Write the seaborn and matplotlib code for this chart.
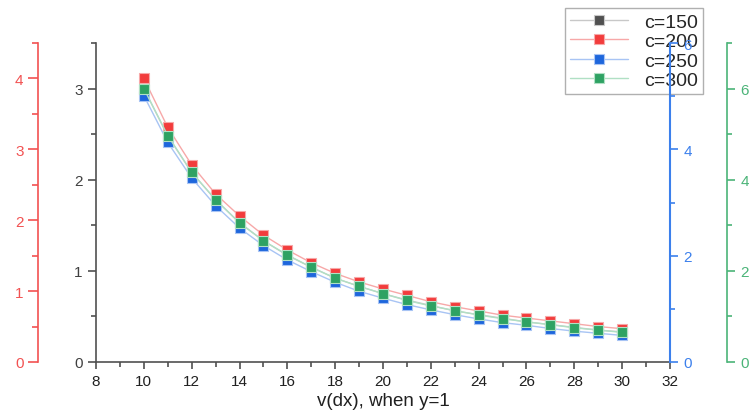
import matplotlib
matplotlib.use("Agg")
import matplotlib.pyplot as plt
from matplotlib.ticker import MultipleLocator
from matplotlib.lines import Line2D
import seaborn as sns
import pandas as pd

sns.set_style("ticks")
plt.rcParams['font.family'] = ['Liberation Sans', 'DejaVu Sans']

v = [10, 11, 12, 13, 14, 15, 16, 17, 18, 19, 20, 21, 22, 23, 24, 25, 26, 27, 28, 29, 30]
c150 = [3.00, 2.48, 2.08, 1.78, 1.53, 1.33, 1.17, 1.04, 0.92, 0.83, 0.75, 0.68, 0.62,
        0.56, 0.52, 0.48, 0.44, 0.41, 0.38, 0.35, 0.33]
c200 = [4.00, 3.31, 2.78, 2.37, 2.06, 1.79, 1.58, 1.40, 1.25, 1.13, 1.03, 0.94, 0.85,
        0.78, 0.72, 0.66, 0.62, 0.58, 0.54, 0.50, 0.47]
c250 = [5.01, 4.13, 3.46, 2.94, 2.52, 2.19, 1.92, 1.70, 1.50, 1.33, 1.20, 1.08, 0.98,
        0.89, 0.81, 0.74, 0.69, 0.63, 0.58, 0.54, 0.50]
c300 = [6.00, 4.97, 4.16, 3.56, 3.05, 2.66, 2.35, 2.08, 1.84, 1.66, 1.50, 1.35, 1.23,
        1.13, 1.03, 0.95, 0.88, 0.82, 0.75, 0.70, 0.65]
labels = ["c=150", "c=200", "c=250", "c=300"]

df = pd.DataFrame({"v": v, "c150": c150, "c200": c200, "c250": c250, "c300": c300})

fig = plt.figure(figsize=(7.49, 4.14), dpi=100)
ax = fig.add_axes([0.1282, 0.1232, 0.7663, 0.7705])
ax_r = ax.twinx()   # red, left outer
ax_b = ax.twinx()   # blue, right
ax_g = ax.twinx()   # green, right outer

gray, gray_l = "#505050", "#c8c8c8"
red, red_l, red_ax = "#f23c3c", "#f7a8a8", "#f25252"
blue, blue_l, blue_ax = "#1e66dc", "#a8c4f4", "#3c80ec"
green, green_l, green_ax = "#2ea263", "#b0e0c4", "#4bb478"

series = [(ax, "c150", gray, gray_l), (ax_r, "c200", red, red_l),
          (ax_b, "c250", blue, blue_l), (ax_g, "c300", green, green_l)]
for a, col, mc, lc in series:
    sns.lineplot(data=df, x="v", y=col, ax=a, color=lc, linewidth=1.0,
                 marker="s", markersize=7, markerfacecolor=mc,
                 markeredgecolor=lc, markeredgewidth=0.8)
    a.set_xlabel("")
    a.set_ylabel("")

ax.set_xlim(8, 32)
ax.set_ylim(0, 3.5)
ax_r.set_ylim(0, 4.5)
ax_b.set_ylim(0, 6)
ax_g.set_ylim(0, 7)

ax.xaxis.set_major_locator(MultipleLocator(2))
ax.xaxis.set_minor_locator(MultipleLocator(1))
ax.yaxis.set_major_locator(MultipleLocator(1))
ax.yaxis.set_minor_locator(MultipleLocator(0.5))
ax_r.yaxis.set_major_locator(MultipleLocator(1))
ax_r.yaxis.set_minor_locator(MultipleLocator(0.5))
ax_b.yaxis.set_major_locator(MultipleLocator(2))
ax_b.yaxis.set_minor_locator(MultipleLocator(1))
ax_g.yaxis.set_major_locator(MultipleLocator(2))
ax_g.yaxis.set_minor_locator(MultipleLocator(1))

lw = 1.2
fs = 11
# main axes
for s in ["top", "right"]:
    ax.spines[s].set_visible(False)
for s in ["left", "bottom"]:
    ax.spines[s].set_color(gray)
    ax.spines[s].set_linewidth(lw)
ax.tick_params(axis="both", which="major", direction="out", length=6, width=lw,
               colors=gray, labelsize=fs, labelcolor="#404040")
ax.tick_params(axis="both", which="minor", direction="out", length=3.5, width=lw, colors=gray)
ax.tick_params(axis="x", which="major", length=5, labelcolor="#202020")
ax.set_xlabel("v(dx), when y=1", fontsize=13.5, color="#202020", labelpad=3)

# red axis on the far left
for s in ["top", "right", "bottom"]:
    ax_r.spines[s].set_visible(False)
ax_r.spines["left"].set_visible(True)
ax_r.spines["left"].set_position(("axes", -0.101))
ax_r.spines["left"].set_color(red_ax)
ax_r.spines["left"].set_linewidth(lw)
ax_r.yaxis.set_ticks_position("left")
ax_r.yaxis.set_label_position("left")
ax_r.tick_params(axis="y", which="major", length=7, width=lw, colors=red_ax, labelsize=fs)
ax_r.tick_params(axis="y", which="minor", length=4, width=lw, colors=red_ax)

# blue axis on the right
for s in ["top", "left", "bottom"]:
    ax_b.spines[s].set_visible(False)
ax_b.spines["right"].set_color(blue_ax)
ax_b.spines["right"].set_linewidth(lw + 0.3)
ax_b.tick_params(axis="y", which="major", length=6, width=lw, colors=blue_ax, labelsize=fs)
ax_b.tick_params(axis="y", which="minor", length=3.5, width=lw, colors=blue_ax)

# green axis on the far right
for s in ["top", "left", "bottom"]:
    ax_g.spines[s].set_visible(False)
ax_g.spines["right"].set_position(("axes", 1.0993))
ax_g.spines["right"].set_color(green_ax)
ax_g.spines["right"].set_linewidth(lw)
ax_g.tick_params(axis="y", which="major", length=6, width=lw, colors=green_ax, labelsize=fs)
ax_g.tick_params(axis="y", which="minor", length=3.5, width=lw, colors=green_ax)

for a in (ax, ax_r, ax_b, ax_g):
    a.patch.set_visible(False)
    a.grid(False)

handles = [Line2D([0], [0], color=lc, linewidth=1.0, marker="s", markersize=7,
                  markerfacecolor=mc, markeredgecolor=lc, markeredgewidth=0.8)
           for _, _, mc, lc in series]
# legend attached to the bottom axes so the blue axis is drawn over it
leg = ax.legend(handles, labels, loc="upper right", bbox_to_anchor=(0.938, 0.978),
                bbox_transform=fig.transFigure,
                frameon=True, fancybox=False, fontsize=14, handlelength=3.0,
                handletextpad=0.8, borderpad=0.25, labelspacing=0.1, borderaxespad=0)
leg.get_frame().set_edgecolor("#b0b0b0")
leg.get_frame().set_linewidth(1.0)
leg.get_frame().set_alpha(1.0)

fig.savefig("out.png", dpi=100)
